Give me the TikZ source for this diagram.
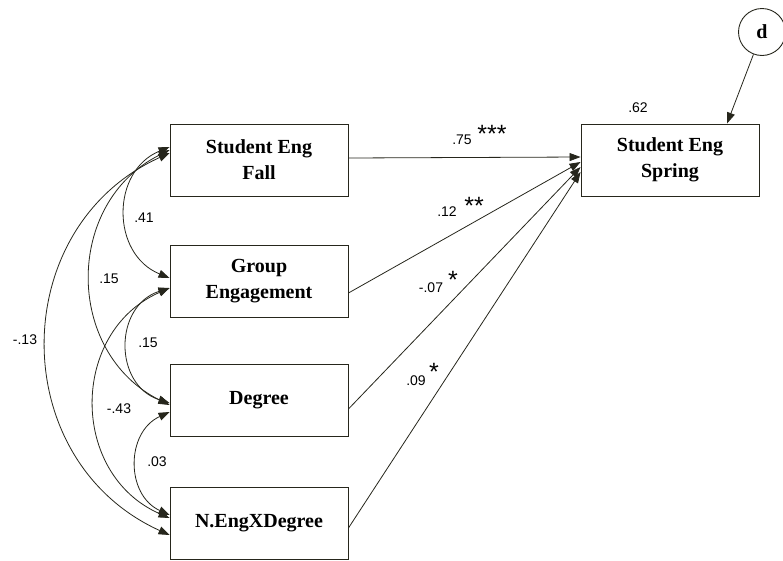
\documentclass[tikz,border=0pt]{standalone}
\usepackage{fontspec}
\setmainfont{Liberation Serif}
\setsansfont{Liberation Sans}
\usetikzlibrary{arrows.meta}
\definecolor{ln}{RGB}{38,38,28}
\begin{document}
\begin{tikzpicture}[x=1pt,y=-1pt,
  box/.style={draw=ln,line width=0.9pt,minimum width=178pt,minimum height=72pt,inner sep=0pt,align=center,
    font=\bfseries\fontsize{20}{26}\selectfont},
  lat/.style={draw=ln,line width=0.9pt,circle,minimum size=47pt,inner sep=0pt,font=\bfseries\fontsize{20}{24}\selectfont},
  num/.style={font=\sffamily\fontsize{14}{16}\selectfont,inner sep=0pt},
  star/.style={font=\sffamily\fontsize{25}{25}\selectfont,inner sep=0pt},
  path/.style={draw=ln,line width=0.8pt,-{Triangle[length=11pt,width=8pt]}},
  cov/.style={draw=ln,line width=0.8pt,{Triangle[length=11pt,width=8pt]}-{Triangle[length=11pt,width=8pt]}}]
\useasboundingbox (0,0) rectangle (783,560);
\node[box] (b1) at (259,160) {Student Eng\\Fall};
\node[box] (b2) at (259,281) {Group\\Engagement};
\node[box] (b3) at (259,400.5) {Degree};
\node[box] (b4) at (259,523) {N.EngXDegree};
\node[box] (sp) at (670,160) {Student Eng\\Spring};
\node[lat] (d) at (762,32) {d};
% paths
\draw[path] ([yshift=2pt]b1.east) -- ([yshift=3pt]sp.west);
\draw[path] ([yshift=-12pt]b2.east) -- ([yshift=-2pt]sp.west);
\draw[path] ([yshift=-8.5pt]b3.east) -- ([yshift=-7pt]sp.west);
\draw[path] ([yshift=-5pt]b4.east) -- ([yshift=-12pt]sp.west);
\draw[path] (d) -- ([xshift=57pt]sp.north);
% covariances
\draw[cov] ([yshift=13pt]b1.west) .. controls +(-58.7,24) and +(-58.7,-24) .. ([yshift=3pt]b2.west);
\draw[cov] ([yshift=10pt]b1.west) .. controls +(-105.3,52.4) and +(-105.3,-52.4) .. ([yshift=-4.5pt]b3.west);
\draw[cov] ([yshift=7pt]b1.west) .. controls +(-164,74.5) and +(-164,-74.5) .. ([yshift=-12pt]b4.west);
\draw[cov] ([yshift=-7pt]b2.west) .. controls +(-56,17.9) and +(-56,-17.9) .. ([yshift=-2.5pt]b3.west);
\draw[cov] ([yshift=-7pt]b2.west) .. controls +(-100,43.8) and +(-100,-43.8) .. ([yshift=5pt]b4.west);
\draw[cov] ([yshift=-11.5pt]b3.west) .. controls +(-44,20.2) and +(-44,-20.2) .. ([yshift=8pt]b4.west);
% labels
\node[num] (l62) at (638,108) {.62};
\node[num] (l75) at (462,140) {.75};
\node[star] (s75) at (492,134) {***};
\node[num] (l12) at (447,212) {.12};
\node[star] (s12) at (474,206) {**};
\node[num] (l07) at (431,288) {-.07};
\node[star] (s07) at (453,280) {*};
\node[num] (l09) at (416,381) {.09};
\node[star] (s09) at (434,372) {*};
\node[num] (c41) at (144,218) {.41};
\node[num] (c15a) at (109,279) {.15};
\node[num] (c13) at (25,340) {-.13};
\node[num] (c15b) at (148,343) {.15};
\node[num] (c43) at (119,409) {-.43};
\node[num] (c03) at (157,462) {.03};
\end{tikzpicture}
\end{document}
